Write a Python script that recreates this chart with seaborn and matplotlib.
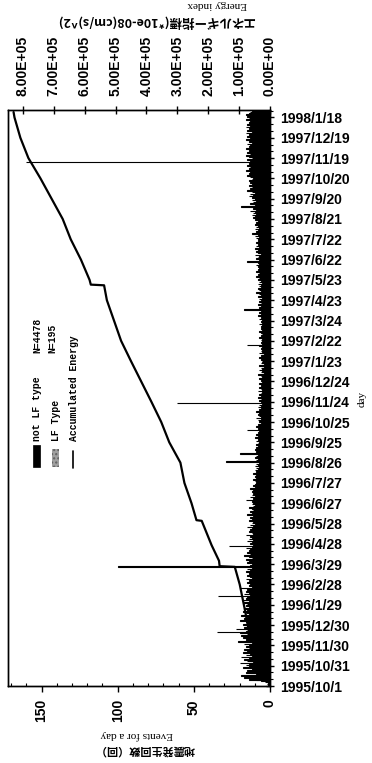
import numpy as np
import pandas as pd
import matplotlib
matplotlib.use("Agg")
import matplotlib.pyplot as plt
import seaborn as sns
from matplotlib.patches import Rectangle
from matplotlib.lines import Line2D
from matplotlib.ticker import MultipleLocator, FixedLocator

# ---------------- data ----------------
start_date = "1995-10-01"
day_labels = ["1995/10/1", "1995/10/31", "1995/11/30", "1995/12/30", "1996/1/29",
              "1996/2/28", "1996/3/29", "1996/4/28", "1996/5/28", "1996/6/27",
              "1996/7/27", "1996/8/26", "1996/9/25", "1996/10/25", "1996/11/24",
              "1996/12/24", "1997/1/23", "1997/2/22", "1997/3/24", "1997/4/23",
              "1997/5/23", "1997/6/22", "1997/7/22", "1997/8/21", "1997/9/20",
              "1997/10/20", "1997/11/19", "1997/12/19", "1998/1/18"]

# daily counts of "not LF type" events, starting 1995/10/1
events_not_lf = [
    0, 1, 0, 2, 1, 0, 3, 2, 6, 9, 14, 8, 11, 17, 7, 12, 19, 9, 6, 13, 16, 8, 10, 15, 11, 7, 12, 18, 9, 14,
    12, 16, 9, 14, 20, 11, 8, 15, 13, 17, 10, 7, 14, 19, 12, 9, 16, 11, 13, 18, 8, 12, 15, 10, 17, 9, 14, 11, 16, 13,
    14, 10, 17, 12, 9, 15, 21, 13, 11, 16, 8, 14, 18, 12, 10, 19, 13, 15, 9, 20, 35, 16, 12, 14, 22, 11, 17, 13, 15, 10,
    13, 18, 11, 15, 9, 16, 12, 20, 14, 10, 17, 13, 8, 15, 19, 11, 14, 12, 16, 10, 18, 13, 9, 15, 12, 17, 11, 14, 10, 16,
    12, 15, 10, 17, 13, 9, 14, 18, 11, 16, 12, 10, 15, 34, 13, 11, 17, 9, 14, 12, 16, 10, 13, 15, 11, 20, 12, 9, 14, 11,
    10, 13, 9, 15, 12, 8, 14, 11, 16, 10, 12, 9, 13, 15, 11, 8, 14, 12, 10, 16, 9, 13, 11, 15, 12, 10, 14, 100, 13, 11,
    12, 9, 15, 11, 14, 8, 13, 16, 10, 12, 9, 14, 11, 17, 8, 13, 10, 15, 12, 9, 14, 11, 13, 8, 16, 10, 12, 27, 11, 9,
    10, 13, 8, 12, 15, 9, 11, 14, 7, 12, 10, 13, 9, 16, 11, 8, 12, 10, 14, 9, 11, 13, 8, 12, 10, 15, 9, 11, 13, 10,
    9, 12, 7, 11, 10, 14, 8, 12, 9, 13, 10, 7, 11, 15, 9, 12, 8, 10, 13, 9, 11, 8, 12, 10, 14, 9, 11, 7, 10, 12,
    8, 11, 9, 12, 10, 16, 9, 11, 8, 13, 10, 7, 12, 9, 11, 8, 10, 12, 7, 9, 11, 8, 13, 10, 9, 7, 11, 8, 10, 9,
    7, 9, 6, 10, 8, 11, 7, 9, 5, 8, 10, 6, 9, 7, 11, 8, 6, 9, 7, 10, 5, 8, 9, 6, 7, 10, 8, 6, 9, 7,
    6, 8, 29, 7, 9, 5, 8, 6, 10, 7, 9, 6, 8, 5, 20, 7, 9, 6, 8, 10, 5, 7, 9, 6, 8, 7, 5, 9, 6, 8,
    7, 5, 9, 6, 8, 4, 7, 10, 6, 5, 8, 7, 9, 5, 6, 8, 7, 4, 15, 6, 8, 5, 7, 9, 6, 4, 8, 7, 5, 6,
    5, 7, 4, 8, 6, 5, 9, 6, 4, 7, 5, 8, 6, 4, 7, 5, 9, 6, 3, 7, 5, 6, 8, 4, 6, 7, 5, 4, 61, 6,
    5, 4, 7, 3, 6, 5, 8, 4, 6, 3, 5, 7, 4, 6, 5, 3, 8, 4, 5, 6, 3, 7, 4, 5, 6, 4, 3, 7, 5, 4,
    4, 6, 3, 5, 7, 4, 5, 3, 6, 4, 8, 5, 3, 4, 6, 5, 3, 7, 4, 5, 6, 3, 4, 5, 7, 4, 3, 6, 5, 4,
    5, 3, 6, 4, 5, 7, 3, 4, 6, 5, 3, 4, 7, 5, 4, 6, 3, 5, 4, 6, 5, 3, 4, 7, 15, 5, 4, 6, 3, 5,
    4, 6, 3, 5, 4, 7, 5, 3, 6, 4, 5, 3, 6, 4, 7, 5, 4, 3, 6, 5, 4, 6, 3, 5, 4, 7, 5, 3, 4, 6,
    5, 4, 7, 3, 6, 5, 4, 8, 5, 3, 6, 4, 7, 5, 4, 6, 17, 5, 4, 7, 3, 6, 5, 4, 8, 5, 6, 4, 7, 5,
    6, 4, 7, 5, 3, 8, 5, 6, 4, 7, 5, 9, 4, 6, 5, 7, 4, 8, 5, 6, 4, 7, 3, 6, 8, 5, 4, 7, 6, 5,
    6, 8, 5, 7, 4, 9, 6, 5, 8, 6, 7, 4, 9, 5, 6, 8, 5, 7, 6, 4, 8, 6, 9, 5, 7, 6, 8, 15, 6, 5,
    7, 5, 9, 6, 8, 4, 7, 10, 6, 5, 8, 7, 9, 6, 5, 8, 10, 6, 7, 5, 9, 6, 8, 7, 5, 9, 6, 8, 7, 6,
    8, 6, 9, 5, 7, 10, 6, 8, 7, 12, 6, 9, 7, 5, 8, 10, 6, 7, 9, 6, 8, 5, 10, 7, 6, 9, 8, 6, 7, 10,
    9, 7, 11, 8, 10, 6, 12, 9, 8, 11, 7, 10, 13, 8, 9, 11, 7, 10, 19, 12, 8, 10, 9, 13, 7, 11, 9, 8, 12, 10,
    10, 8, 12, 9, 14, 11, 7, 13, 10, 9, 12, 8, 15, 11, 9, 13, 10, 12, 8, 14, 11, 9, 12, 10, 13, 8, 11, 14, 9, 12,
    11, 9, 13, 10, 15, 12, 8, 14, 11, 10, 13, 9, 16, 12, 10, 14, 11, 13, 9, 15, 12, 10, 14, 11, 160, 13, 9, 12, 15, 10,
    12, 10, 14, 11, 16, 9, 13, 12, 15, 10, 11, 14, 9, 13, 16, 12, 10, 14, 11, 13, 9, 15, 12, 10, 14, 11, 13, 16, 10, 12,
    13, 10, 15, 12, 9, 14, 11, 16, 12, 10, 13, 15, 11, 9, 14, 12, 16, 10, 13, 11, 15, 12, 9, 14, 11, 13, 10, 16, 12, 14,
    12, 15, 10, 13, 16, 11, 14, 9, 13, 12,
]

# LF type events (day offset from 1995/10/1, count)
lf_day = [12, 19, 27, 33, 41, 48, 52, 58, 64, 71, 77, 85, 93, 101, 108, 114, 122, 129, 136, 143,
          151, 158, 166, 173, 181, 190, 199, 212, 226, 241, 259, 277, 296, 318, 341, 367, 395, 428, 461, 497,
          533, 571, 608, 640, 668, 693, 712, 729, 741, 752, 763, 771, 779, 788, 796, 803, 811, 819, 826, 833,
          841, 847]
lf_count = [3, 4, 2, 5, 3, 4, 3, 2, 5, 4, 3, 4, 2, 3, 5, 3, 4, 2, 3, 4,
            3, 2, 4, 3, 2, 3, 2, 3, 2, 2, 3, 2, 2, 3, 2, 3, 2, 3, 2, 2,
            3, 2, 3, 2, 3, 4, 3, 4, 3, 5, 4, 3, 4, 3, 5, 4, 3, 4, 5, 3,
            4, 3]

# accumulated energy (day offset, energy index)
energy_day = [0, 15, 30, 55, 79, 80, 112, 150, 176, 177, 185, 208, 244, 245, 270, 300, 330, 360, 390, 420,
              450, 480, 510, 540, 570, 592, 593, 600, 630, 660, 690, 720, 750, 780, 810, 840, 848]
energy_value = [0, 5e3, 1.8e4, 4.0e4, 5.2e4, 6.8e4, 8.1e4, 9.8e4, 1.14e5, 1.63e5,
                1.65e5, 1.89e5, 2.21e5, 2.38e5, 2.54e5, 2.77e5, 2.90e5, 3.26e5, 3.52e5, 3.84e5,
                4.17e5, 4.50e5, 4.82e5, 5.05e5, 5.28e5, 5.37e5, 5.80e5, 5.84e5, 6.12e5, 6.45e5,
                6.71e5, 7.07e5, 7.43e5, 7.82e5, 8.08e5, 8.27e5, 8.30e5]

event_ticks = [0, 50, 100, 150]
energy_ticks = [0, 1e5, 2e5, 3e5, 4e5, 5e5, 6e5, 7e5, 8e5]

# ---------------- style ----------------
sns.set_style("ticks")
plt.rcParams["font.family"] = ["Liberation Sans", "DejaVu Sans"]
plt.rcParams.update({
    "axes.edgecolor": "black", "axes.linewidth": 1.0,
    "xtick.color": "black", "ytick.color": "black", "text.color": "black",
})
CJK = ["Noto Sans CJK JP", "DejaVu Sans"]

W, H = 372, 763
fig = plt.figure(figsize=(W / 100, H / 100), dpi=100)
fig.patch.set_facecolor("white")

def fx(px):
    return px / W

def fy(py):
    return 1 - py / H

ax = fig.add_axes([fx(8), fy(686), fx(270) - fx(8), fy(110) - fy(686)])
ax.set_facecolor("white")

start = pd.Timestamp(start_date)
days = np.arange(len(events_not_lf))
tick_days = [(pd.Timestamp(d.replace("/", "-")) - start).days for d in day_labels]

df = pd.DataFrame({"day": days, "count": events_not_lf})
lf_df = pd.DataFrame({"day": lf_day, "count": lf_count})

# LF type bars (behind)
ax.barh(lf_df["day"], lf_df["count"], height=1.0, color="#9a9a9a", linewidth=0)
# not-LF bars
sns.barplot(data=df, x="count", y="day", orient="h", native_scale=True,
            color="black", width=1.0, linewidth=0.8, edgecolor="black",
            errorbar=None, ax=ax, saturation=1)

ax.set_xlim(172, 0)
ax.set_ylim(0, 851)
ax.set_xlabel("")
ax.set_ylabel("")

ax.xaxis.set_major_locator(FixedLocator(event_ticks))
ax.xaxis.set_minor_locator(MultipleLocator(10))
ax.set_xticklabels([str(t) for t in event_ticks], fontweight="bold")
ax.tick_params(axis="x", which="major", direction="out", length=4.5, width=1,
               pad=5, labelsize=10, labelrotation=90, bottom=True, top=False)
ax.tick_params(axis="x", which="minor", direction="in", length=2, width=0.8,
               bottom=True, top=False)

ax.yaxis.tick_right()
ax.set_yticks(tick_days)
ax.set_yticklabels(day_labels, fontweight="bold")
ax.yaxis.set_minor_locator(MultipleLocator(10))
ax.tick_params(axis="y", which="major", direction="inout", length=6, width=1,
               pad=4, labelsize=10, right=True, left=False)
ax.tick_params(axis="y", which="minor", direction="out", length=2, width=0.8,
               right=True, left=False)
for s in ax.spines.values():
    s.set_visible(True)
    s.set_linewidth(1.0)

# energy axis
ax2 = ax.twiny()
sns.lineplot(x=energy_value, y=energy_day, sort=False, estimator=None, orient="y",
             color="black", linewidth=1.6, ax=ax2)
ax2.set_xlim(8.48e5, 0)
ax2.set_ylim(0, 851)
ax2.set_xlabel("")
ax2.set_ylabel("")
ax2.xaxis.set_major_locator(FixedLocator(energy_ticks))
ax2.set_xticklabels(["%.2E" % v for v in energy_ticks], fontweight="bold")
ax2.tick_params(axis="x", which="major", direction="inout", length=6, width=1,
                pad=7, labelsize=10, labelrotation=90, top=True, bottom=False)
for s in ax2.spines.values():
    s.set_visible(True)
    s.set_linewidth(1.0)

# axis titles (upside-down, as in the rotated original)
fig.text(fx(137), fy(735), "Events for a day", rotation=180, ha="center", va="center",
         family=["Liberation Serif", "DejaVu Serif"], fontsize=8)
fig.text(fx(145), fy(750), "地震発生回数（回）", rotation=180, ha="center", va="center",
         family=CJK, fontsize=8, fontweight="bold")
fig.text(fx(217), fy(5), "Energy index", rotation=180, ha="center", va="center",
         family=["Liberation Serif", "DejaVu Serif"], fontsize=8)
fig.text(fx(156), fy(21), "エネルギー指標(*10e-08(cm/s)^2)", rotation=180, ha="center", va="center",
         family=CJK, fontsize=9, fontweight="bold")
fig.text(fx(362), fy(399), "day", rotation=90, ha="center", va="center",
         family=["Liberation Serif", "DejaVu Serif"], fontsize=8)

# legend (rotated, drawn by hand)
mono = ["Liberation Mono", "DejaVu Sans Mono"]
fig.add_artist(Rectangle((fx(33), fy(467)), fx(40) - fx(33), fy(445) - fy(467),
                         transform=fig.transFigure, facecolor="black", edgecolor="black", lw=0.5))
fig.add_artist(Rectangle((fx(52), fy(467)), fx(59) - fx(52), fy(449) - fy(467),
                         transform=fig.transFigure, facecolor="#a0a0a0", edgecolor="#606060",
                         hatch="....", lw=0))
fig.add_artist(Line2D([fx(73), fx(73)], [fy(468), fy(451)], transform=fig.transFigure,
                      color="black", lw=1.2))
for x, y, s in [(37, 441, "not LF type"), (37, 353, "N=4478"),
                (56, 441, "LF Type"), (52, 353, "N=195"),
                (74, 441, "Accumulated Energy")]:
    fig.text(fx(x), fy(y), s, rotation=90, rotation_mode="anchor", ha="left", va="center",
             family=mono, fontsize=7, fontweight="bold")

fig.savefig("out.png", dpi=100, facecolor="white")
